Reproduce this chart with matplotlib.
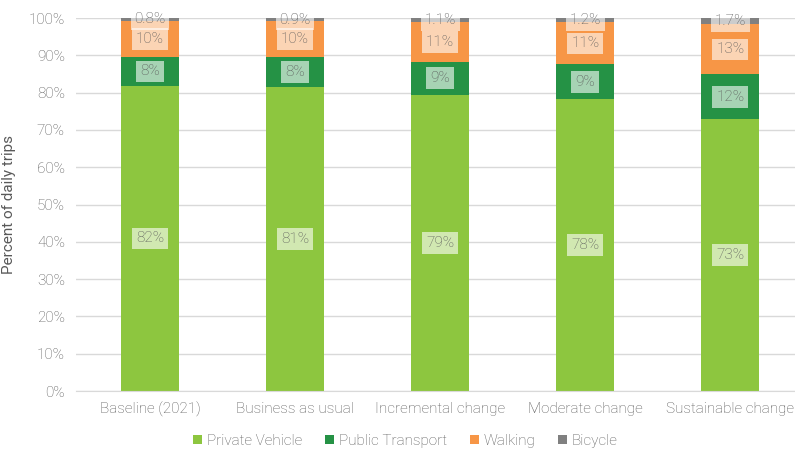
import numpy as np
import matplotlib.pyplot as plt

scenarios = ['Baseline (2021)', 'Business as usual', 'Incremental change',
             'Moderate change', 'Sustainable change']
private_vehicle = [81.8, 81.4, 79.4, 78.2, 72.8]
public_transport = [7.8, 8.1, 8.9, 9.4, 12.1]
walking = [9.6, 9.6, 10.6, 11.2, 13.4]
bicycle = [0.8, 0.9, 1.1, 1.2, 1.7]

series = [('Private Vehicle', private_vehicle, '#8DC63F', '{:.0f}%'),
          ('Public Transport', public_transport, '#259245', '{:.0f}%'),
          ('Walking', walking, '#F79646', '{:.0f}%'),
          ('Bicycle', bicycle, '#808080', '{:.1f}%')]

plt.rcParams['font.family'] = ['Roboto', 'DejaVu Sans']
plt.rcParams['font.weight'] = 'light'
txt = '#595959'
fs = 11

fig = plt.figure(figsize=(7.95, 4.5), dpi=100)
ax = fig.add_axes([0.0956, 0.131, 0.916, 0.829])

x = np.arange(len(scenarios))
bottom = np.zeros(len(scenarios))
for name, vals, col, fmt in series:
    vals = np.array(vals)
    ax.bar(x, vals, 0.4, bottom=bottom, color=col, label=name, zorder=2)
    for xi, b, v in zip(x, bottom, vals):
        ax.text(xi, b + v / 2, fmt.format(v), ha='center', va='center',
                fontsize=fs, color=txt, zorder=3,
                bbox=dict(boxstyle='square,pad=0.25', fc='white', ec='none', alpha=0.6))
    bottom += vals

ax.set_xlim(-0.51, 4.51)
ax.set_ylim(0, 100)
ax.set_yticks(np.arange(0, 101, 10))
ax.set_yticklabels([f'{t}%' for t in range(0, 101, 10)])
ax.set_xticks(x)
ax.set_xticklabels(scenarios)
ax.yaxis.grid(True, color='#D9D9D9', lw=1, zorder=0)
ax.set_axisbelow(True)
for s in ['top', 'right', 'left']:
    ax.spines[s].set_visible(False)
ax.spines['bottom'].set_color('#D9D9D9')
ax.tick_params(axis='both', length=0, colors=txt, labelsize=fs)
ax.tick_params(axis='x', pad=8)
ax.tick_params(axis='y', pad=8)
ax.set_ylabel('Percent of daily trips', color=txt, fontsize=fs)
ax.yaxis.set_label_coords(-0.082, 0.5)

fig.legend(loc='center', bbox_to_anchor=(0.51, 0.02), ncol=4, frameon=False,
           fontsize=fs, labelcolor=txt, handlelength=0.6, handleheight=0.6,
           handletextpad=0.3, columnspacing=1.5)

fig.savefig('out.png', dpi=100)
